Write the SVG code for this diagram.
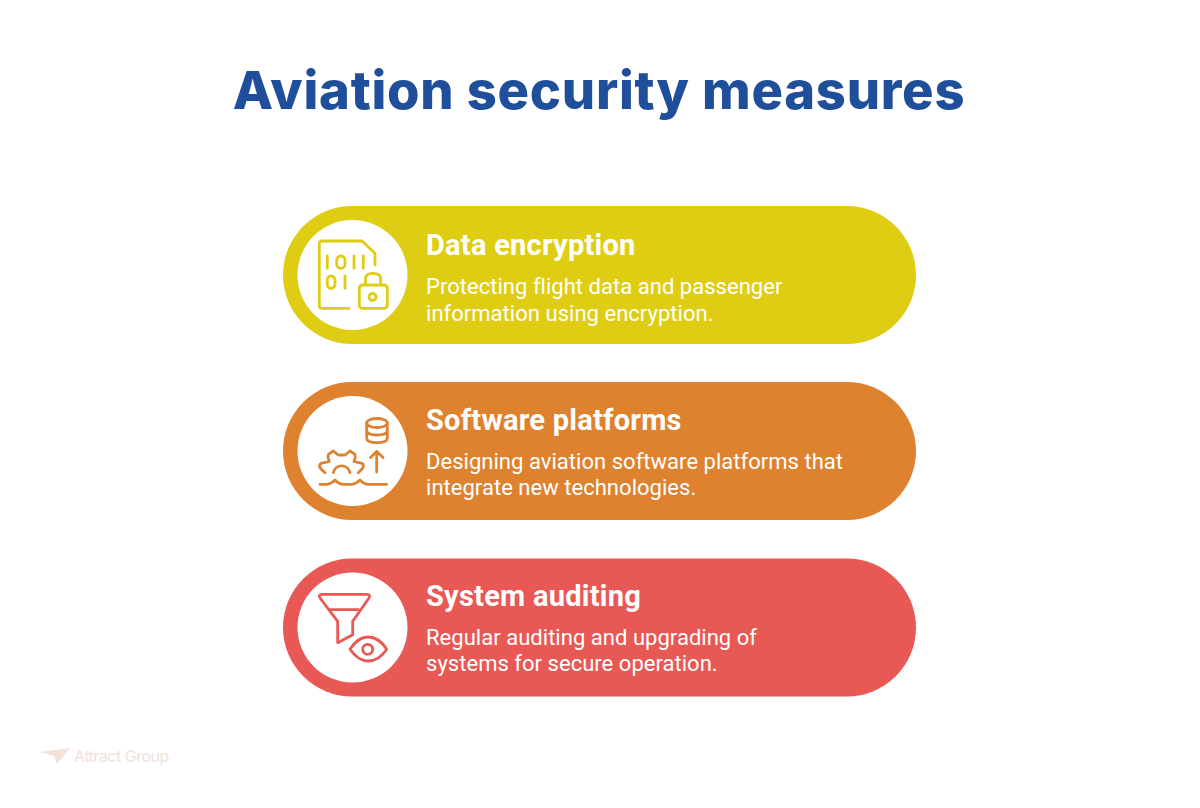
<svg xmlns="http://www.w3.org/2000/svg" width="1200" height="808" viewBox="0 0 1200 808">
<style>
.h{font-family:Roboto,"Liberation Sans",sans-serif;font-weight:700;font-size:29px;letter-spacing:.25px;fill:#fff}
.b{font-family:Roboto,"Liberation Sans",sans-serif;font-weight:400;font-size:22px;letter-spacing:.03px;fill:#fff}
.i{fill:none;stroke-width:2.800;stroke-linecap:round;stroke-linejoin:round}
.c{fill:#fff}
</style>
<rect width="1200" height="808" fill="#fff"/>
<text id="title" x="599" y="109" text-anchor="middle" font-family="Inter,'Liberation Sans',sans-serif" font-weight="800" font-size="52.500" letter-spacing="0.750" fill="#1f4e9b">Aviation security measures</text>
<g id="node-encryption">
<rect x="283" y="206" width="633" height="138" rx="69" fill="#dfcd14"/>
<circle class="c" cx="352.500" cy="275" r="55"/>
<g class="i" stroke="#dfcd14">
<path d="M349 308.300H322Q319.300 308.300 319.300 305.500V244Q319.300 241 322 241H362L375 253.300V265"/>
<path d="M327.300 256V268.300M354 256V268.300M363.300 256V268.300"/>
<rect x="336.700" y="256" width="8.300" height="12.300" rx="4.100"/>
<rect x="327.300" y="276" width="7.700" height="12.300" rx="3.800"/>
<path d="M345 276V288.300"/>
<rect x="359.300" y="285" width="28" height="23.300" rx="3"/>
<path d="M365.500 285V279Q365.500 273.300 373 273.300Q380.700 273.300 380.700 279V285"/>
<circle cx="372.500" cy="297" r="3.500"/>
</g>
<text class="h" x="426" y="254.500">Data encryption</text>
<text class="b" x="426" y="294">Protecting flight data and passenger</text>
<text class="b" x="426" y="321">information using encryption.</text>
</g>
<g id="node-software">
<rect x="283" y="382" width="633" height="138" rx="69" fill="#de8230"/>
<circle class="c" cx="352.500" cy="451" r="55"/>
<g class="i" stroke="#de8230">
<ellipse cx="377" cy="423" rx="10.300" ry="4.500"/>
<path d="M366.700 423V438Q366.700 442.700 377 442.700Q387.300 442.700 387.300 438V423M366.700 430.500Q366.700 435 377 435Q387.300 435 387.300 430.500"/>
<path d="M376.700 472V451.500M370.500 457.500L376.700 451.500L383 457.500"/>
<path d="M325 472.700L320.500 468.500Q318.500 465 321 463.300L329.300 461.500Q327.500 458 328.300 454.300L333.300 451L338.300 455H345L350 451L355 454.300Q355.800 458 354 461.500L362 463.300Q364.500 465 362.500 468.500L358.300 472.700"/>
<path d="M333.300 472.700A8.500 8.500 0 0 1 350 472.700"/>
<path d="M320 484.300H327Q331 484 335 480Q339 484.300 343.300 484.300H351.700Q356 484 360 480Q364 484.300 368.300 484.300H386.700"/>
</g>
<text class="h" x="426" y="429.500">Software platforms</text>
<text class="b" x="426" y="469">Designing aviation software platforms that</text>
<text class="b" x="426" y="495">integrate new technologies.</text>
</g>
<g id="node-auditing">
<rect x="283" y="558.500" width="633" height="138" rx="69" fill="#e85854"/>
<circle class="c" cx="352.500" cy="627.500" r="55"/>
<g class="i" stroke="#e85854">
<path d="M322 594.300H366.500Q371 594.300 369 598L352.700 621.300V634.700L337.700 642.700V621.300L320 598Q318 594.300 322 594.300Z"/>
<path d="M329.300 609.700H358.300"/>
<path d="M350 649.300Q358 637 368 637Q379 637 386.700 649.300Q379 661 368 661Q358 661 350 649.300Z"/>
<circle cx="367.700" cy="649.300" r="5"/>
</g>
<text class="h" x="426" y="605.500">System auditing</text>
<text class="b" x="426" y="645">Regular auditing and upgrading of</text>
<text class="b" x="426" y="671">systems for secure operation.</text>
</g>
<g id="logo">
<path d="M39 752L70 748L57 764L54 756Z" fill="#f3e2da"/>
<text x="74" y="762" font-family="Inter,'Liberation Sans',sans-serif" font-size="16" letter-spacing="-.5" fill="#efe2dc">Attract Group</text>
</g>
</svg>
